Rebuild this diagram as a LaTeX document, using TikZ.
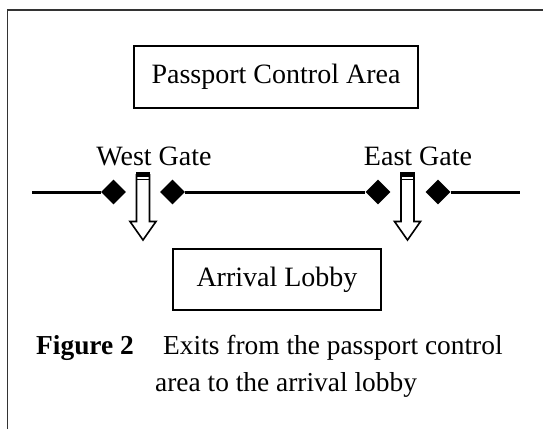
\documentclass[tikz,border=0pt]{standalone}
\usepackage{fontspec}
\setmainfont{Liberation Serif}
\usetikzlibrary{shapes.geometric}
\begin{document}
\begin{tikzpicture}[x=1pt,y=-1pt,
  every node/.style={font=\fontsize{28}{34}\selectfont},
  capfont/.style={font=\fontsize{27.4}{33}\selectfont},
  areabox/.style={draw, line width=1.6pt, inner sep=0pt},
  lbl/.style={inner sep=0pt},
  gem/.style={diamond, fill=black, draw=none, inner sep=0pt, minimum width=25pt, minimum height=25pt},
  rail/.style={line width=3pt},
  framing/.style={line width=1.2pt, draw=black!80},
  exitarrow/.pic={
    \draw[line width=1.6pt, line join=miter] (-6.5,2) -- (-6.5,49.5) -- (-13,49.5) -- (0,68) -- (13,49.5) -- (6.5,49.5) -- (6.5,2);
    \fill (-7.3,0) rectangle (7.3,4.5);
    \draw[line width=1.4pt] (-6.5,7.5) -- (6.5,7.5);
  }]
\useasboundingbox (0,0) rectangle (543,429);
% frame (only top and left edges visible)
\draw[framing] (7.5,429) -- (7.5,10) -- (543,10);
% areas
\node[areabox, minimum width=284pt, minimum height=62pt] (pca) at (276,77) {Passport Control Area};
\node[areabox, minimum width=208pt, minimum height=61pt] (lobby) at (277,279.5) {Arrival Lobby};
% gate labels
\node[lbl, anchor=base] (wg) at (154,165) {West Gate};
\node[lbl, anchor=base] (eg) at (418,165) {East Gate};
% barrier line with diamonds
\coordinate (lend) at (32,192);
\coordinate (rend) at (520,192);
\node[gem] (d1) at (113.5,192) {};
\node[gem] (d2) at (172.5,192) {};
\node[gem] (d3) at (378,192) {};
\node[gem] (d4) at (438,192) {};
\draw[rail] (lend) -- (d1.west);
\draw[rail] (d2.east) -- (d3.west);
\draw[rail] (d4.east) -- (rend);
% exit arrows
\pic at (143,172) {exitarrow};
\pic at (407.5,172) {exitarrow};
% caption
\node[lbl, capfont, anchor=base west, font=\fontsize{27.4}{33}\selectfont\bfseries] (fig) at (36,354) {Figure 2};
\node[lbl, capfont, anchor=base west] (cap1) at (163,354) {Exits from the passport control};
\node[lbl, capfont, anchor=base west] (cap2) at (155,391) {area to the arrival lobby};
\end{tikzpicture}
\end{document}
